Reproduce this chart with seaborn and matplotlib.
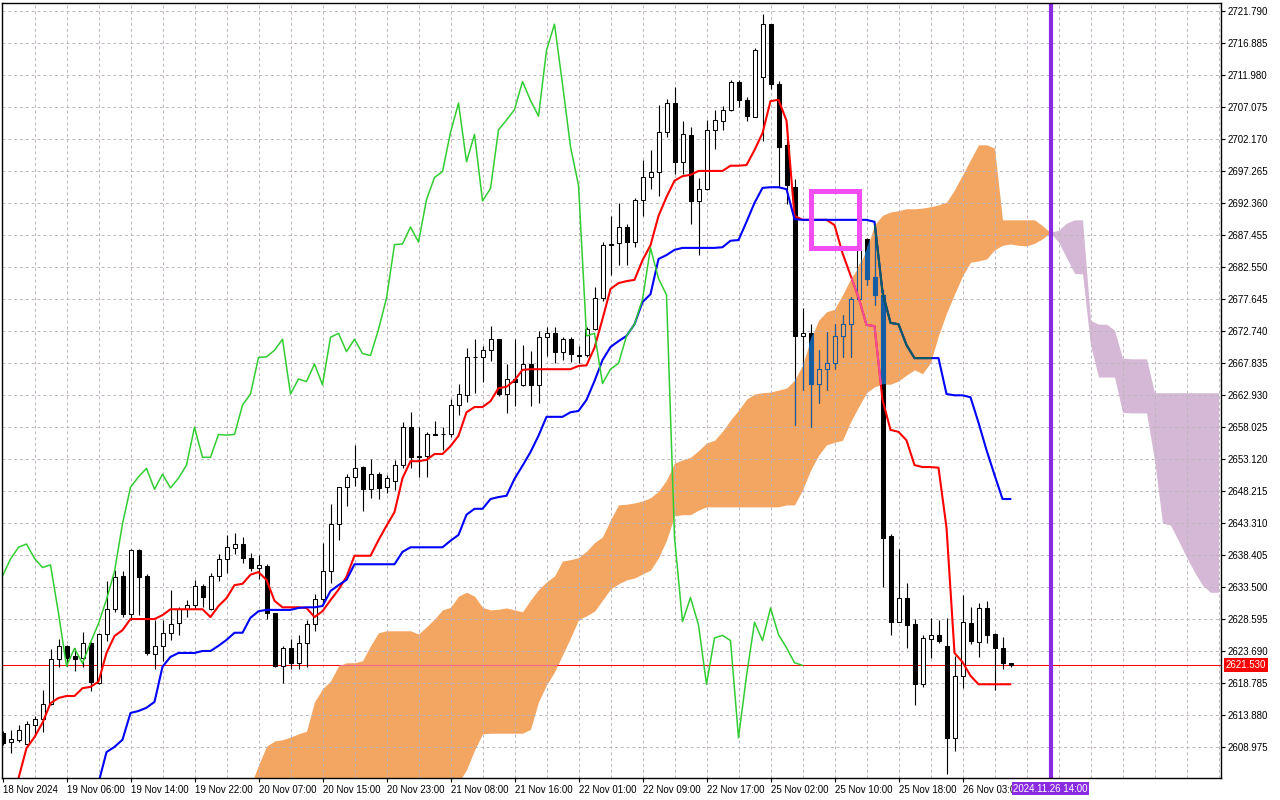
import numpy as np
import pandas as pd
import matplotlib
matplotlib.use("Agg")
import matplotlib.pyplot as plt
import seaborn as sns
from matplotlib.path import Path
from matplotlib.patches import Rectangle

nan = np.nan

# ---------------- data (H1 bars) ----------------
open_ = [2611.1, 2609.7, 2610.1, 2609.5, 2612.4, 2613.2, 2615.6, 2622.4, 2624.4, 2622.9,
         2622.7, 2625.0, 2618.8, 2626.3, 2630.1, 2635.2, 2629.4, 2639.2, 2635.2, 2623.2,
         2624.5, 2626.4, 2628.0, 2630.2, 2630.7, 2633.7, 2630.1, 2635.2, 2637.8, 2639.5,
         2640.1, 2637.9, 2636.5, 2636.7, 2629.5, 2621.4, 2624.1, 2621.8, 2625.0, 2627.9,
         2631.6, 2635.9, 2643.2, 2648.8, 2650.4, 2651.9, 2648.5, 2650.8, 2648.8, 2649.7,
         2652.2, 2658.0, 2653.6, 2653.6, 2657.0, 2657.0, 2656.9, 2661.4, 2663.0, 2668.7,
         2668.7, 2669.8, 2671.5, 2663.1, 2665.4, 2664.5, 2667.7, 2664.5, 2671.8, 2672.4,
         2669.6, 2671.5, 2669.1, 2669.1, 2673.0, 2677.8, 2686.0, 2686.2, 2688.7, 2686.4,
         2692.9, 2696.3, 2697.2, 2703.3, 2707.7, 2698.7, 2702.8, 2692.7, 2694.5, 2703.6,
         2705.0, 2706.7, 2711.0, 2708.2, 2705.6, 2711.7, 2719.8, 2710.6, 2701.3, 2694.8,
         2672.0, 2672.4, 2664.7, 2666.9, 2667.8, 2672.0, 2673.8, 2677.6, 2686.8, 2681.0,
         2678.3, 2641.3, 2628.2, 2631.8, 2627.8, 2618.6, 2625.6, 2626.1, 2624.5, 2610.4,
         2619.9, 2628.0, 2625.1, 2630.3, 2626.3, 2624.2, 2621.9]
high = [2611.4, 2611.6, 2612.4, 2612.9, 2613.7, 2617.7, 2624.0, 2625.6, 2624.6, 2624.1,
        2626.6, 2625.1, 2626.4, 2634.4, 2636.1, 2636.0, 2639.4, 2639.4, 2635.5, 2628.5,
        2628.5, 2633.0, 2630.4, 2631.5, 2634.6, 2633.9, 2635.6, 2638.6, 2641.5, 2641.8,
        2641.2, 2638.7, 2638.4, 2637.0, 2629.6, 2624.4, 2625.6, 2626.2, 2628.5, 2632.4,
        2640.3, 2646.3, 2648.9, 2650.8, 2655.3, 2652.1, 2653.1, 2651.1, 2650.7, 2653.0,
        2658.8, 2660.3, 2658.1, 2657.2, 2658.9, 2658.1, 2662.3, 2664.6, 2670.1, 2671.6,
        2670.5, 2673.5, 2671.6, 2667.7, 2671.5, 2670.6, 2669.7, 2672.7, 2673.3, 2673.3,
        2671.8, 2671.8, 2670.4, 2673.3, 2679.5, 2686.4, 2690.4, 2692.4, 2689.2, 2693.1,
        2699.0, 2700.5, 2707.4, 2708.4, 2710.2, 2705.0, 2704.0, 2696.2, 2705.1, 2706.6,
        2707.3, 2711.3, 2711.3, 2708.7, 2716.2, 2721.4, 2719.9, 2711.1, 2704.5, 2696.0,
        2676.3, 2673.9, 2669.9, 2672.6, 2673.8, 2675.2, 2678.0, 2686.9, 2687.0, 2688.7,
        2679.0, 2641.6, 2639.3, 2634.2, 2628.6, 2626.2, 2628.7, 2628.4, 2628.7, 2623.0,
        2632.3, 2630.4, 2631.0, 2631.4, 2626.4, 2625.8, 2621.9]
low = [2609.3, 2608.1, 2609.7, 2609.4, 2610.6, 2611.3, 2615.4, 2621.2, 2621.4, 2620.7,
       2621.3, 2617.6, 2618.6, 2625.2, 2629.7, 2628.9, 2628.5, 2629.2, 2623.1, 2620.9,
       2622.2, 2625.4, 2626.2, 2628.9, 2630.1, 2630.4, 2630.0, 2634.5, 2635.6, 2638.5,
       2637.2, 2636.0, 2634.8, 2628.6, 2621.2, 2618.8, 2620.9, 2620.9, 2621.3, 2626.7,
       2631.0, 2634.1, 2640.7, 2645.9, 2649.0, 2645.2, 2647.1, 2647.0, 2647.9, 2648.4,
       2651.7, 2651.7, 2650.4, 2650.3, 2656.8, 2654.5, 2656.5, 2659.9, 2661.8, 2663.3,
       2665.0, 2668.2, 2662.8, 2660.2, 2661.3, 2664.3, 2661.2, 2661.7, 2668.9, 2667.8,
       2668.3, 2668.0, 2667.9, 2668.8, 2672.9, 2677.3, 2681.3, 2682.9, 2682.9, 2685.7,
       2690.4, 2694.6, 2693.5, 2702.5, 2696.9, 2696.9, 2689.2, 2684.4, 2694.4, 2700.7,
       2703.5, 2706.5, 2707.1, 2705.0, 2705.5, 2701.9, 2709.8, 2694.9, 2692.3, 2658.3,
       2663.7, 2658.1, 2661.7, 2663.7, 2666.9, 2668.7, 2668.7, 2677.5, 2679.8, 2676.7,
       2633.5, 2626.2, 2628.2, 2624.1, 2615.4, 2618.2, 2622.6, 2624.9, 2604.8, 2608.4,
       2618.0, 2624.8, 2622.8, 2624.9, 2617.7, 2621.0, 2621.2]
close = [2609.6, 2610.2, 2611.6, 2612.5, 2613.2, 2615.6, 2622.4, 2624.4, 2622.7, 2622.4,
         2625.0, 2619.0, 2626.3, 2630.1, 2635.0, 2629.4, 2639.2, 2635.1, 2623.4, 2624.5,
         2626.4, 2627.9, 2630.2, 2630.7, 2633.7, 2632.0, 2635.2, 2637.8, 2639.6, 2640.1,
         2637.9, 2636.5, 2636.9, 2629.5, 2621.4, 2624.1, 2621.8, 2625.0, 2627.9, 2631.6,
         2635.9, 2643.2, 2648.8, 2650.4, 2651.7, 2648.5, 2650.8, 2648.7, 2650.2, 2652.2,
         2658.0, 2653.4, 2653.4, 2656.9, 2656.8, 2656.9, 2661.4, 2663.1, 2668.7, 2668.8,
         2669.8, 2671.5, 2663.1, 2665.4, 2665.0, 2667.7, 2664.5, 2671.8, 2672.4, 2669.6,
         2671.5, 2669.3, 2669.0, 2673.0, 2677.8, 2686.0, 2686.1, 2688.7, 2686.4, 2692.9,
         2696.3, 2697.2, 2703.2, 2707.7, 2698.7, 2702.9, 2692.7, 2694.6, 2703.6, 2705.1,
         2706.7, 2711.0, 2708.1, 2705.7, 2715.8, 2719.8, 2710.6, 2701.0, 2695.1, 2672.0,
         2672.4, 2664.7, 2666.9, 2667.8, 2672.0, 2673.8, 2677.6, 2685.5, 2680.8, 2678.3,
         2641.1, 2628.2, 2631.9, 2627.7, 2618.6, 2625.7, 2626.1, 2625.3, 2610.4, 2619.9,
         2628.1, 2625.3, 2630.3, 2626.2, 2624.2, 2621.9, 2621.5]

tenkan = [nan, nan, 2604.2, 2608.8, 2610.5, 2612.7, 2615.7, 2616.5, 2616.8, 2616.8,
          2618.0, 2618.2, 2619.0, 2623.4, 2626.0, 2626.9, 2628.6, 2628.6, 2628.6, 2628.6,
          2629.2, 2630.1, 2630.1, 2630.1, 2630.1, 2630.1, 2628.9, 2630.6, 2631.8, 2633.8,
          2634.0, 2635.4, 2635.8, 2634.6, 2631.4, 2630.4, 2630.4, 2630.4, 2630.3, 2628.9,
          2629.8, 2631.5, 2633.1, 2635.1, 2638.3, 2638.3, 2638.3, 2640.7, 2642.9, 2645.0,
          2650.2, 2652.8, 2652.8, 2653.0, 2653.9, 2653.9, 2655.1, 2656.7, 2660.3, 2661.1,
          2661.1, 2662.0, 2664.0, 2664.2, 2665.2, 2666.8, 2666.9, 2666.9, 2666.9, 2666.9,
          2666.9, 2666.9, 2667.4, 2667.5, 2670.2, 2674.6, 2679.2, 2680.1, 2680.4, 2680.6,
          2683.6, 2685.9, 2690.4, 2693.3, 2695.8, 2696.5, 2696.7, 2697.3, 2697.3, 2697.3,
          2697.3, 2698.1, 2698.1, 2698.2, 2700.5, 2703.1, 2708.0, 2708.2, 2705.0, 2690.4,
          2689.8, 2689.8, 2689.8, 2689.8, 2689.0, 2684.7, 2681.3, 2677.9, 2673.7, 2673.5,
          2662.2, 2657.6, 2657.3, 2656.0, 2652.2, 2651.9, 2651.9, 2651.8, 2642.6, 2623.4,
          2622.0, 2619.9, 2618.6, 2618.6, 2618.6, 2618.6, 2618.6]

kijun = [nan] * 12 + [2603.5,
    2608.2, 2609.0, 2610.1, 2614.2, 2614.5, 2615.0, 2615.9, 2621.3, 2622.8, 2623.4,
    2623.4, 2623.4, 2623.7, 2623.7,
    2624.5, 2625.4, 2626.5, 2626.5, 2628.8, 2629.8, 2630.0, 2630.0, 2630.0, 2630.0,
    2630.3, 2630.4, 2630.4, 2630.6,
    2632.9, 2633.8, 2634.6, 2637.0, 2637.0, 2637.0, 2637.0, 2637.0, 2637.0, 2638.9,
    2639.6, 2639.6, 2639.6, 2639.6, 2639.6, 2640.6, 2641.5, 2644.6, 2645.5, 2645.5,
    2647.0, 2647.3, 2647.5, 2650.1, 2652.1, 2654.2, 2656.7, 2659.6, 2659.6, 2659.6,
    2660.3, 2660.5, 2662.2, 2665.1, 2668.3, 2670.3, 2671.2, 2672.0, 2673.8, 2677.2,
    2678.4, 2683.8, 2684.4, 2685.2, 2685.5, 2685.5, 2685.5, 2685.5, 2685.5, 2685.6,
    2686.6, 2686.7, 2689.5, 2692.4, 2694.7, 2694.8, 2694.8, 2694.5, 2689.9,
    2689.8, 2689.8, 2689.8, 2689.8, 2689.8, 2689.8, 2689.8, 2689.8, 2689.8,
    2689.5, 2678.7, 2674.0, 2673.8, 2670.6, 2668.6, 2668.6, 2668.6, 2668.6, 2663.1,
    2662.9, 2662.9, 2662.6, 2658.7, 2654.5, 2650.7, 2647.0, 2647.0]

cloud_start = 31  # first bar of the visible cloud
span_a = [2603.0, 2606.2, 2609.1, 2609.9, 2610.1, 2610.5, 2611.0, 2611.4, 2615.9, 2617.9,
          2619.1, 2621.4, 2621.9, 2621.9, 2622.2, 2624.5, 2626.5, 2626.8, 2626.8, 2626.8,
          2626.8, 2626.3, 2627.4, 2628.6, 2630.0, 2630.4, 2632.1, 2632.7, 2632.1, 2630.4,
          2630.0, 2630.1, 2630.3, 2630.0, 2629.7, 2631.5, 2633.1, 2634.3, 2635.2, 2637.5,
          2637.7, 2638.0, 2639.0, 2640.3, 2641.2, 2643.8, 2646.1, 2646.2, 2646.4, 2646.7,
          2647.2, 2648.2, 2649.9, 2652.5, 2653.0, 2653.4, 2654.4, 2655.6, 2656.0, 2657.4,
          2659.1, 2660.6, 2662.3, 2663.1, 2663.3, 2663.4, 2663.7, 2664.0, 2665.2, 2667.5,
          2671.4, 2674.4, 2675.7, 2676.1, 2678.3, 2680.7, 2682.6, 2685.2, 2689.0, 2690.5,
          2691.0, 2691.2, 2691.5, 2691.5, 2691.6, 2691.8, 2692.1, 2692.5, 2694.4, 2696.7,
          2699.0, 2701.3, 2701.3, 2700.8, 2689.8, 2689.8, 2689.8, 2689.8, 2689.8, 2688.9,
          2687.8, 2686.4, 2684.0, 2681.6, 2681.5, 2670.6, 2665.7, 2665.7, 2665.7, 2660.3,
          2660.2, 2660.2, 2660.2, 2653.0, 2643.3, 2643.0, 2640.6, 2638.1, 2635.8, 2633.8,
          2632.7, 2632.7]
span_b = [2601.0, 2601.0, 2601.0, 2601.0, 2601.0, 2601.0, 2601.0, 2601.0, 2601.0, 2601.0,
          2601.0, 2601.0, 2601.0, 2601.0, 2601.0, 2601.0, 2601.0, 2601.0, 2601.0, 2601.0,
          2601.0, 2601.0, 2601.0, 2601.0, 2601.0, 2601.0, 2603.5, 2605.5, 2608.5, 2611.0,
          2611.1, 2611.1, 2611.1, 2611.1, 2611.1, 2611.7, 2615.9, 2618.5, 2620.5, 2623.1,
          2625.7, 2628.5, 2629.1, 2629.8, 2631.5, 2633.2, 2634.0, 2634.6, 2634.9, 2635.5,
          2636.1, 2638.0, 2640.7, 2644.4, 2644.6, 2644.6, 2645.3, 2645.8, 2645.8, 2645.8,
          2645.8, 2645.8, 2645.8, 2645.8, 2645.8, 2645.8, 2645.8, 2646.1, 2646.1, 2648.4,
          2651.4, 2653.7, 2655.3, 2655.7, 2656.0, 2658.8, 2661.1, 2663.3, 2664.2, 2664.6,
          2664.6, 2665.1, 2666.0, 2666.8, 2666.2, 2667.9, 2672.1, 2675.5, 2678.4, 2681.2,
          2683.3, 2683.5, 2683.8, 2685.2, 2685.9, 2686.1, 2685.9, 2685.8, 2686.2, 2686.9,
          2687.9, 2688.2, 2689.3, 2689.8, 2689.8, 2674.4, 2673.8, 2673.8, 2672.9, 2668.6,
          2668.5, 2668.5, 2668.5, 2663.3, 2663.3, 2663.3, 2663.3, 2663.3, 2663.3, 2663.3,
          2663.3, 2663.3]

chikou_lag = 26
time_labels = ["18 Nov 2024", "19 Nov 06:00", "19 Nov 14:00", "19 Nov 22:00",
               "20 Nov 07:00", "20 Nov 15:00", "20 Nov 23:00", "21 Nov 08:00",
               "21 Nov 16:00", "22 Nov 01:00", "22 Nov 09:00", "22 Nov 17:00",
               "25 Nov 02:00", "25 Nov 10:00", "25 Nov 18:00", "26 Nov 03:00"]
label_bars = list(range(0, 121, 8))
price_ticks = [2721.790, 2716.885, 2711.980, 2707.075, 2702.170, 2697.265, 2692.360,
               2687.455, 2682.550, 2677.645, 2672.740, 2667.835, 2662.930, 2658.025,
               2653.120, 2648.215, 2643.310, 2638.405, 2633.500, 2628.595, 2623.690,
               2618.785, 2613.880, 2608.975]
last_price = 2621.530
cursor_bar = 131
cursor_label = "2024.11.26 14:00"
box_bar0, box_bar1 = 101.04, 107.0
box_low, box_high = 2685.45, 2694.25

# ---------------- style ----------------
ORANGE = "#f3a562"
LILAC = "#d5b8d5"
GRID = "#bdb4bd"
RED = "#ff0000"
BLUE = "#0000ff"
GREEN = "#32cd32"
IN_CANDLE = "#155ea3"
IN_RED = "#f0509a"
IN_BLUE = "#0b5c5c"

sns.set_theme(style="white")
plt.rcParams["font.family"] = ["Liberation Sans", "DejaVu Sans"]
plt.rcParams["text.color"] = "black"

n = len(close)
bars = np.arange(n)

fig = plt.figure(figsize=(12.8, 8.0), dpi=100)
fig.patch.set_facecolor("white")
ax = fig.add_axes([1.5 / 1280, 22 / 800, 1219.5 / 1280, 775.5 / 800])
ax.set_facecolor("white")

# grid
for p in price_ticks:
    ax.axhline(p, color=GRID, lw=0.7, ls=(0, (3, 3)), zorder=1.5)
for g in range(4, 153, 4):
    ax.axvline(g, color=GRID, lw=0.7, ls=(0, (3, 3)), zorder=1.5)

# cloud
cbars = np.arange(cloud_start, cloud_start + len(span_a))
a = np.array(span_a)
b = np.array(span_b)
bull_cloud = ax.fill_between(cbars, a, b, where=a >= b, interpolate=True,
                             color=ORANGE, lw=0, zorder=1)
ax.fill_between(cbars, a, b, where=a < b, interpolate=True,
                color=LILAC, lw=0, zorder=1)
cloud_clip = Path.make_compound_path(*bull_cloud.get_paths())

# candles
o = np.array(open_)
c = np.array(close)
h = np.array(high)
lo = np.array(low)
up = c >= o
body_lo = np.minimum(o, c)
body_h = np.maximum(np.abs(c - o), 0.05)


def draw_candles(edge, face_up, face_dn, z, clip=None):
    wk = ax.vlines(bars, lo, h, colors=edge, lw=0.8, zorder=z)
    faces = [face_up if u else face_dn for u in up]
    rects = ax.bar(bars, body_h, bottom=body_lo, width=0.5, color=faces,
                   edgecolor=edge, linewidth=0.75, zorder=z + 0.1)
    if clip is not None:
        wk.set_clip_path(clip, ax.transData)
        for r in rects:
            r.set_clip_path(clip, ax.transData)


draw_candles("black", "white", "black", 3)
draw_candles(IN_CANDLE, ORANGE, IN_CANDLE, 3.5, cloud_clip)

# current price line
ax.axhline(last_price, color=RED, lw=0.75, zorder=2.5)
pl = ax.axhline(last_price, color="#ee6a8a", lw=0.75, zorder=2.6)
pl.set_clip_path(cloud_clip, ax.transData)

# ichimoku lines
line_df = pd.DataFrame({"bar": bars, "tenkan": tenkan, "kijun": kijun})
sns.lineplot(data=line_df, x="bar", y="tenkan", color=RED, lw=1.5, ax=ax, zorder=5)
sns.lineplot(data=line_df, x="bar", y="kijun", color=BLUE, lw=1.5, ax=ax, zorder=5)
chikou_df = pd.DataFrame({"bar": bars[:n - chikou_lag], "chikou": close[chikou_lag:]})
sns.lineplot(data=chikou_df, x="bar", y="chikou", color=GREEN, lw=1.1, ax=ax, zorder=5)
for vals, col in ((tenkan, IN_RED), (kijun, IN_BLUE)):
    ln, = ax.plot(bars, vals, color=col, lw=1.5, zorder=5.5)
    ln.set_clip_path(cloud_clip, ax.transData)

# vertical cursor line and highlight box
ax.axvline(cursor_bar, color="#8a2be2", lw=3.0, zorder=7)
ax.add_patch(Rectangle((box_bar0, box_low), box_bar1 - box_bar0, box_high - box_low,
                       fill=False, ec="#f24df2", lw=3.6, joinstyle="miter", zorder=8))

# axes
ax.set_xlim(-0.125, 152.31)
ax.set_ylim(2604.23, 2723.12)
ax.set_xlabel("")
ax.set_ylabel("")
ax.yaxis.tick_right()
ax.set_yticks(price_ticks)
ax.set_yticklabels([f"{v:.3f}" for v in price_ticks])
ax.set_xticks(label_bars)
ax.set_xticklabels(time_labels, ha="left")
ax.tick_params(axis="y", which="both", right=True, left=False, labelright=True,
               labelleft=False, direction="out", length=3, width=0.8, pad=1.5,
               labelsize=7, colors="black")
ax.tick_params(axis="x", bottom=True, direction="out", length=3, width=0.8, pad=2,
               labelsize=7, colors="black")
for s in ax.spines.values():
    s.set_color("black")
    s.set_linewidth(1.0)
    s.set_zorder(9)

ax.annotate(f"{last_price:.3f}", xy=(1, last_price), xycoords=("axes fraction", "data"),
            xytext=(3.5, 0), textcoords="offset points", ha="left", va="center",
            fontsize=7, color="white", annotation_clip=False, zorder=10,
            bbox=dict(boxstyle="square,pad=0.2", fc="#ff0000", ec="none"))
ax.annotate(cursor_label, xy=(cursor_bar, 0), xycoords=("data", "axes fraction"),
            xytext=(0, -4.2), textcoords="offset points", ha="center", va="top",
            fontsize=7, color="white", annotation_clip=False, zorder=10,
            bbox=dict(boxstyle="square,pad=0.15", fc="#8a2be2", ec="none"))

fig.savefig("out.png", dpi=100, facecolor="white")
